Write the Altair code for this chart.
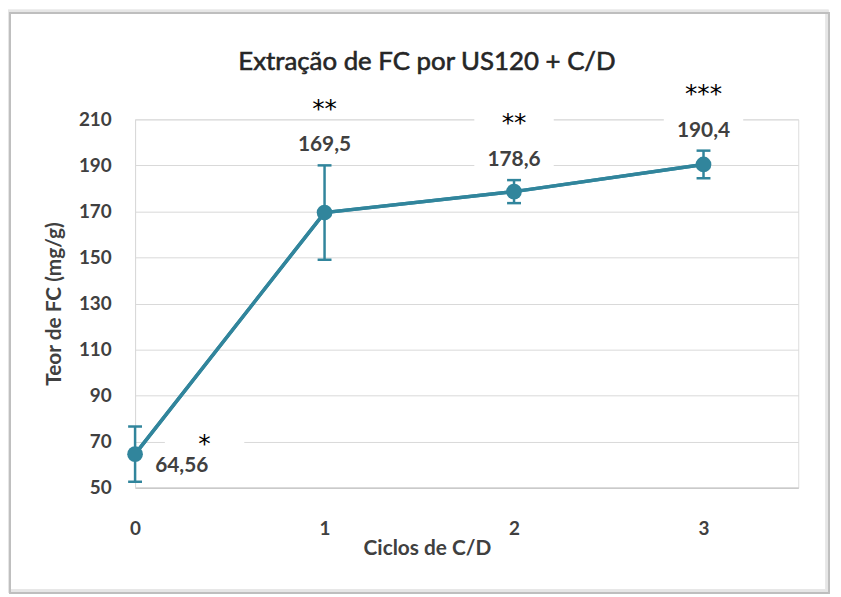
import altair as alt
import pandas as pd

# ---- data ----
ciclos = [0, 1, 2, 3]
teor = [64.56, 169.5, 178.6, 190.4]
erro = [12.0, 20.5, 5.0, 6.0]
rotulos = ["64,56", "169,5", "178,6", "190,4"]
signif = ["*", "**", "**", "***"]
y_ticks = [50, 70, 90, 110, 130, 150, 170, 190, 210]
x_ticks = [0, 1, 2, 3]
titulo = "Extração de FC por US120 + C/D"

df = pd.DataFrame({"ciclo": ciclos, "teor": teor, "erro": erro,
                   "rotulo": rotulos, "sig": signif})

COLOR = "#31859C"
FONT = "Lato"
TXT = "#404040"

xs = alt.Scale(domain=[0, 3.5], nice=False, zero=False)
ys = alt.Scale(domain=[50, 210], nice=False, zero=False)

x_enc = alt.X("ciclo:Q", scale=xs, axis=alt.Axis(
    values=x_ticks, format="d", title="Ciclos de C/D", grid=False, ticks=False,
    tickSize=0, domainColor="#BFBFBF", domainWidth=1, labelFont=FONT,
    labelFontSize=19, labelColor=TXT, labelFontWeight="bold", labelPadding=41,
    labelBaseline="middle", labelFlush=False, titleFont=FONT, titleFontSize=21,
    titleFontWeight="bold", titleColor=TXT, titleX=294, titleY=61,
    titleBaseline="middle", titleAlign="center"))
y_enc = alt.Y("teor:Q", scale=ys, axis=alt.Axis(
    values=y_ticks, title="Teor de FC (mg/g)", grid=True, gridColor="#D9D9D9",
    gridWidth=1, ticks=False, tickSize=0, domainColor="#D9D9D9",
    labelFont=FONT, labelFontSize=19, labelColor=TXT, labelFontWeight="bold",
    labelPadding=24, labelFlush=False, titleFont=FONT, titleFontSize=21,
    titleFontWeight="bold", titleColor=TXT, titleX=-81, titleY=185.5,
    titleAngle=-90, titleBaseline="middle", titleAlign="center"))

base = alt.Chart(df).transform_calculate(
    upper="datum.teor + datum.erro", lower="datum.teor - datum.erro")

BOX = "M-1,-0.3L1,-0.3L1,0.3L-1,0.3Z"

frame = alt.Chart(df).mark_rect(fill="transparent", stroke="#BFBFBF",
                                strokeWidth=1.5).encode(
    x=alt.value(-126), x2=alt.value(699), y=alt.value(-107), y2=alt.value(477))
frame_shadow = alt.Chart(df).mark_rect(fill="transparent", stroke="#E6E6E6",
                                       strokeWidth=3).encode(
    x=alt.value(-128), x2=alt.value(697), y=alt.value(-109), y2=alt.value(475))

title_txt = alt.Chart(pd.DataFrame({"t": [titulo]})).mark_text(
    font=FONT, fontSize=26, color="#262626", stroke="#262626", strokeWidth=0.6,
    align="center", baseline="alphabetic").encode(
    x=alt.value(294), y=alt.value(-50), text="t:N")

hi = base.transform_filter("datum.ciclo > 0")
lo = base.transform_filter("datum.ciclo == 0")

box_kw = dict(shape=BOX, filled=True, color="white", opacity=1, size=6400)
ast_box_hi = hi.mark_point(yOffset=-61, **box_kw).encode(
    x=alt.X("ciclo:Q", scale=xs), y=alt.Y("upper:Q", scale=ys))
lab_box_hi = hi.mark_point(yOffset=-20, **box_kw).encode(
    x=alt.X("ciclo:Q", scale=xs), y=alt.Y("upper:Q", scale=ys))
ast_box_lo = lo.mark_point(xOffset=70, yOffset=-14, **box_kw).encode(
    x=alt.X("ciclo:Q", scale=xs), y=alt.Y("teor:Q", scale=ys))

bars = base.mark_rule(color=COLOR, strokeWidth=2.5).encode(
    x=alt.X("ciclo:Q", scale=xs), y=alt.Y("lower:Q", scale=ys), y2="upper:Q")
cap_up = base.mark_tick(color=COLOR, orient="horizontal", size=14,
                        thickness=2.5, opacity=1).encode(
    x=alt.X("ciclo:Q", scale=xs), y=alt.Y("upper:Q", scale=ys))
cap_lo = base.mark_tick(color=COLOR, orient="horizontal", size=14,
                        thickness=2.5, opacity=1).encode(
    x=alt.X("ciclo:Q", scale=xs), y=alt.Y("lower:Q", scale=ys))

line = base.mark_line(color=COLOR, strokeWidth=3.5).encode(x=x_enc, y=y_enc)
pts = base.mark_circle(color=COLOR, size=250, opacity=1).encode(
    x=alt.X("ciclo:Q", scale=xs), y=alt.Y("teor:Q", scale=ys))

lab_kw = dict(font=FONT, fontSize=21, fontWeight="bold", color=TXT,
              baseline="middle", align="center")
lab_hi = hi.mark_text(dy=-20, **lab_kw).encode(
    x=alt.X("ciclo:Q", scale=xs), y=alt.Y("upper:Q", scale=ys), text="rotulo:N")
lab_lo = lo.mark_text(dx=47, dy=12, **lab_kw).encode(
    x=alt.X("ciclo:Q", scale=xs), y=alt.Y("teor:Q", scale=ys), text="rotulo:N")

ast_kw = dict(font="DejaVu Sans", fontSize=25, color="black",
              baseline="middle", align="center")
ast_hi = hi.mark_text(dy=-57, **ast_kw).encode(
    x=alt.X("ciclo:Q", scale=xs), y=alt.Y("upper:Q", scale=ys), text="sig:N")
ast_lo = lo.mark_text(dx=70, dy=-10, **ast_kw).encode(
    x=alt.X("ciclo:Q", scale=xs), y=alt.Y("teor:Q", scale=ys), text="sig:N")

chart = alt.layer(
    line, frame_shadow, frame, title_txt, ast_box_hi, lab_box_hi, ast_box_lo,
    bars, cap_up, cap_lo, line, pts, lab_hi, lab_lo, ast_hi, ast_lo
).properties(
    width=668, height=371,
    autosize=alt.AutoSizeParams(type="none"),
    padding={"left": 128, "top": 110, "right": 35, "bottom": 108},
).configure_view(stroke=None).configure(background="white")

chart.save("out.html", embed_options={"renderer": "svg", "actions": False})
